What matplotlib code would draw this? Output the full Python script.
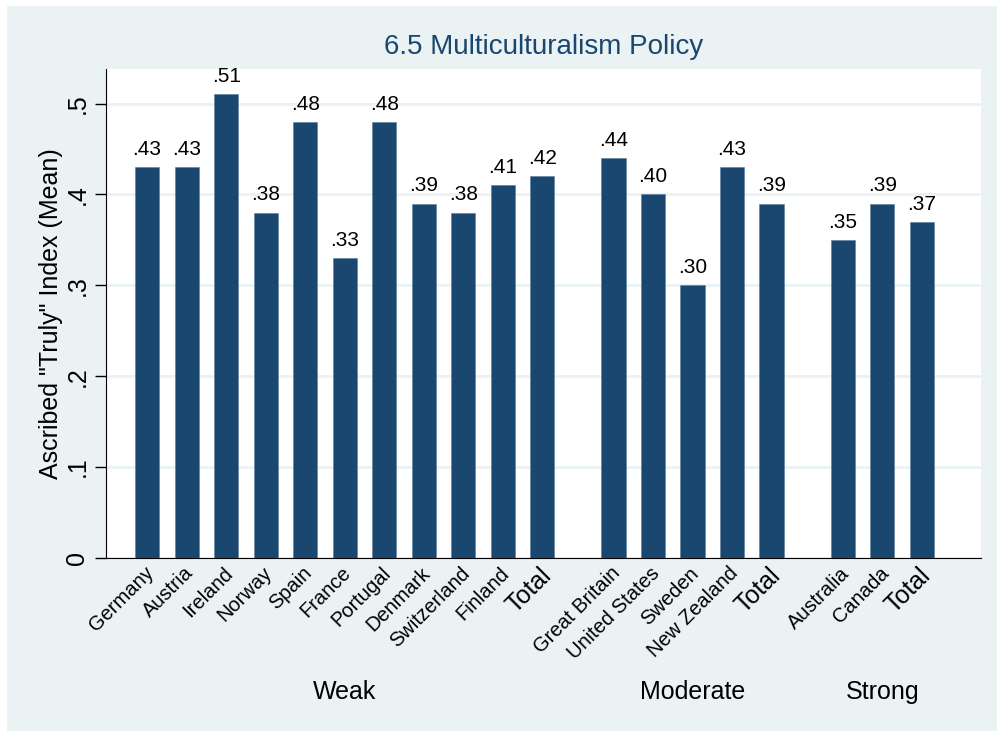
import matplotlib
matplotlib.use("Agg")
import matplotlib.pyplot as plt
import matplotlib.transforms as mtransforms
from matplotlib.patches import Rectangle

plt.rcParams['font.family'] = ['Liberation Sans', 'DejaVu Sans']

weak_labels = ["Germany", "Austria", "Ireland", "Norway", "Spain", "France",
               "Portugal", "Denmark", "Switzerland", "Finland", "Total"]
weak_values = [0.43, 0.43, 0.51, 0.38, 0.48, 0.33, 0.48, 0.39, 0.38, 0.41, 0.42]
moderate_labels = ["Great Britain", "United States", "Sweden", "New Zealand", "Total"]
moderate_values = [0.44, 0.40, 0.30, 0.43, 0.39]
strong_labels = ["Australia", "Canada", "Total"]
strong_values = [0.35, 0.39, 0.37]
group_names = ["Weak", "Moderate", "Strong"]
yticks = [0, 0.1, 0.2, 0.3, 0.4, 0.5]
ytick_labels = ["0", ".1", ".2", ".3", ".4", ".5"]

NAVY = "#1a476f"
BG = "#eaf2f3"

fig = plt.figure(figsize=(9.97, 7.31), dpi=100)
fig.patch.set_facecolor("white")
fig.patches.append(Rectangle((7 / 997, -0.05), 1.1, 1.05 - 6 / 731, transform=fig.transFigure,
                             facecolor=BG, edgecolor="none", zorder=-10))

W, H = 997, 731
ax = fig.add_axes([106 / W, (H - 558) / H, (981 - 106) / W, (558 - 69) / H])
ax.set_facecolor("white")

groups = [(weak_labels, weak_values), (moderate_labels, moderate_values), (strong_labels, strong_values)]
gap = 1.8
positions, labels, values, centers = [], [], [], []
start = 0.0
for labs, vals in groups:
    pos = [start + i for i in range(len(labs))]
    positions += pos
    labels += labs
    values += vals
    centers.append((pos[0] + pos[-1]) / 2)
    start = pos[-1] + gap

ax.bar(positions, values, width=0.61, color=NAVY, edgecolor="#5b7d9c", linewidth=0.4, zorder=3)
for x, v in zip(positions, values):
    ax.text(x, v + 0.009, ("%.2f" % v).lstrip("0"), ha="center", va="bottom", fontsize=15, zorder=4)

ax.set_xlim(-1.04, positions[-1] + 1.5)
ax.set_ylim(0, 0.538)
ax.set_yticks(yticks)
ax.set_yticklabels(ytick_labels, rotation=90, va="center", fontsize=18)
ax.tick_params(axis="y", length=8, width=1, pad=4, color="black")
ax.grid(axis="y", color=BG, linewidth=2, zorder=0)
ax.set_axisbelow(True)

ax.set_xticks(positions)
ax.set_xticklabels([])
ax.tick_params(axis="x", length=0)
for x, lab in zip(positions, labels):
    fs = 18 if lab == "Total" else 14.5
    ax.text(x - 0.08, -0.006, lab, rotation=45, rotation_mode="anchor", ha="right", va="top",
            fontsize=fs, transform=ax.transData, clip_on=False)

trans = mtransforms.blended_transform_factory(ax.transData, ax.transAxes)
for c, g in zip(centers, group_names):
    ax.text(c, -0.274, g, ha="center", va="center", fontsize=18, transform=trans)

for s in ["top", "right"]:
    ax.spines[s].set_visible(False)
ax.spines["left"].set_color("black")
ax.spines["bottom"].set_color("black")

ax.set_ylabel('Ascribed "Truly" Index (Mean)', fontsize=18, labelpad=2)
fig.text(543.5 / W, (H - 47) / H, "6.5 Multiculturalism Policy", ha="center", va="center",
         fontsize=20, color=NAVY)

fig.savefig("out.png", dpi=100, facecolor=fig.get_facecolor())
